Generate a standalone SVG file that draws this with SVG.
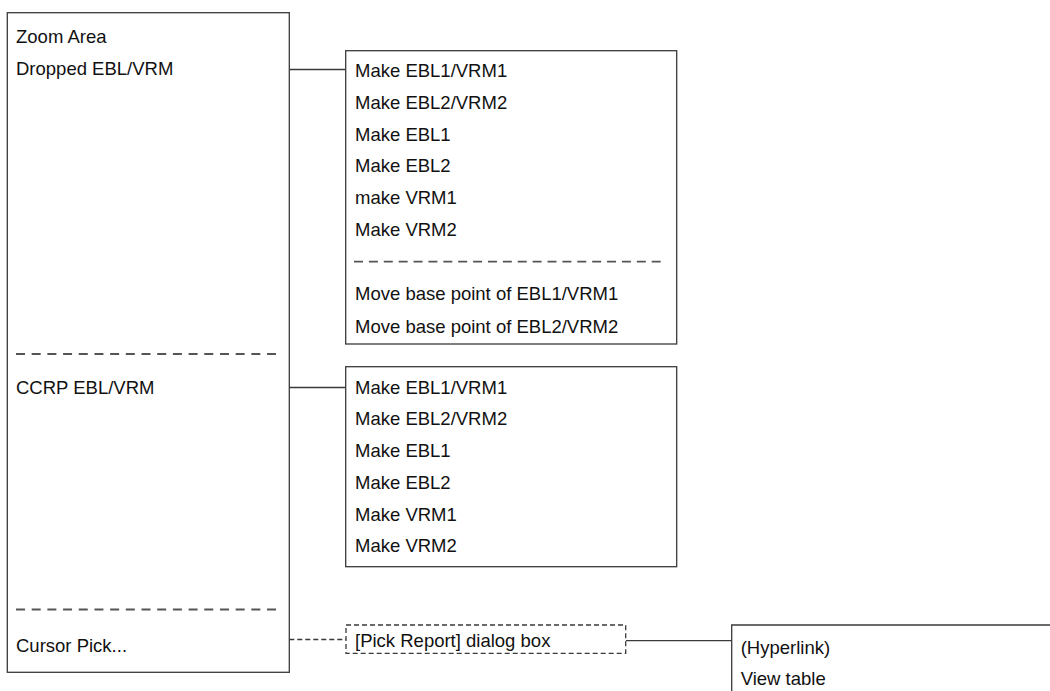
<svg xmlns="http://www.w3.org/2000/svg" width="1050" height="691" viewBox="0 0 1050 691">
<style>
.box{fill:#fff;stroke:#3a3a3a;stroke-width:1.3}
.dbox{fill:#fff;stroke:#3a3a3a;stroke-width:1.3;stroke-dasharray:5,3}
.t{font-family:"Liberation Sans",Arial,sans-serif;font-size:18.5px;fill:#111}
.sep{stroke:#555;stroke-width:1.8;fill:none}
.c{stroke:#3a3a3a;stroke-width:1.3;fill:none}
.cd{stroke:#3a3a3a;stroke-width:1.3;fill:none;stroke-dasharray:5,3}
</style>
<rect width="1050" height="691" fill="#fff"/>
<g id="connectors">
<line class="c" x1="289.3" y1="69.5" x2="345.7" y2="69.5"/>
<line class="c" x1="289.3" y1="387.5" x2="345.7" y2="387.5"/>
<line class="cd" x1="289.3" y1="639.5" x2="346" y2="639.5"/>
<line class="c" x1="625.7" y1="640.7" x2="731.7" y2="640.7"/>
</g>
<g id="main-menu">
<rect class="box" x="7.3" y="12.7" width="282" height="659.6"/>
<text class="t" x="16" y="42.7">Zoom Area</text>
<text class="t" x="16" y="74.7">Dropped EBL/VRM</text>
<line class="sep" x1="16" y1="354" x2="276" y2="354" stroke-dasharray="9,6.69"/>
<text class="t" x="16" y="393.7">CCRP EBL/VRM</text>
<line class="sep" x1="16" y1="609.5" x2="276" y2="609.5" stroke-dasharray="9,6.69"/>
<text class="t" x="16" y="651.7">Cursor Pick...</text>
</g>
<g id="dropped-submenu">
<rect class="box" x="345.7" y="50.7" width="331" height="293.3"/>
<text class="t" x="355" y="76.7">Make EBL1/VRM1</text>
<text class="t" x="355" y="108.5">Make EBL2/VRM2</text>
<text class="t" x="355" y="140.5">Make EBL1</text>
<text class="t" x="355" y="172.1">Make EBL2</text>
<text class="t" x="355" y="203.9">make VRM1</text>
<text class="t" x="355" y="235.7">Make VRM2</text>
<line class="sep" x1="354" y1="261.7" x2="660.7" y2="261.7" stroke-dasharray="9,5.885"/>
<text class="t" x="355" y="300">Move base point of EBL1/VRM1</text>
<text class="t" x="355" y="332.6">Move base point of EBL2/VRM2</text>
</g>
<g id="ccrp-submenu">
<rect class="box" x="345.7" y="366.7" width="331" height="200"/>
<text class="t" x="355" y="393.6">Make EBL1/VRM1</text>
<text class="t" x="355" y="425">Make EBL2/VRM2</text>
<text class="t" x="355" y="456.9">Make EBL1</text>
<text class="t" x="355" y="488.8">Make EBL2</text>
<text class="t" x="355" y="520.6">Make VRM1</text>
<text class="t" x="355" y="552.4">Make VRM2</text>
</g>
<g id="pick-report">
<rect class="dbox" x="346" y="625" width="279.7" height="28.3"/>
<text class="t" x="355" y="646.5">[Pick Report] dialog box</text>
</g>
<g id="pick-report-menu">
<path class="c" d="M1051,625 H731.7 V692"/>
<text class="t" x="740.7" y="653.8">(Hyperlink)</text>
<text class="t" x="740.7" y="684.8">View table</text>
</g>
</svg>
